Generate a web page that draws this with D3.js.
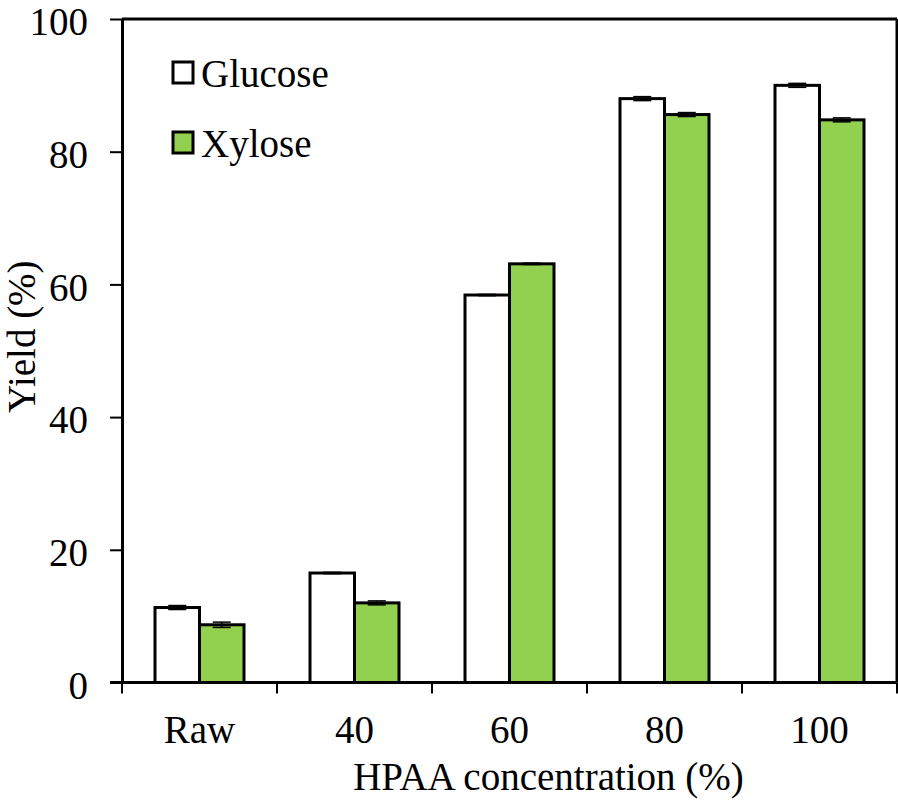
<!DOCTYPE html>
<html>
<head>
<meta charset="utf-8">
<script src="https://cdn.jsdelivr.net/npm/d3@7/dist/d3.min.js"></script>
<style>
  body { margin: 0; background: #fff; }
  svg { display: block; }
</style>
</head>
<body>
<svg id="chart" width="898" height="807"></svg>
<script>
const categories = ["Raw", "40", "60", "80", "100"];
const seriesNames = ["Glucose", "Xylose"];
const glucose = [11.3, 16.5, 58.4, 88.0, 90.0];
const xylose = [8.7, 12.0, 63.1, 85.6, 84.8];
const glucoseErr = [0.3, 0.1, 0.1, 0.3, 0.3];
const xyloseErr = [0.4, 0.3, 0.1, 0.3, 0.3];
const yTicks = [0, 20, 40, 60, 80, 100];
const colors = ["#ffffff", "#92d050"];

const FONT = "Liberation Serif, DejaVu Serif, Tinos, Times New Roman, serif";
const FS = 39;
const svg = d3.select("#chart").attr("font-family", FONT);
const m = { left: 122, right: 897, top: 19, bottom: 682.5 };

const x0 = d3.scaleBand().domain(categories).range([m.left, m.right]).padding(0);
const x1 = d3.scaleBand().domain(seriesNames).range([33, x0.bandwidth() - 33]).padding(0);
const y = d3.scaleLinear().domain([0, 100]).range([m.bottom, m.top]);

const data = categories.map((c, i) => ({
  cat: c,
  vals: [
    { s: "Glucose", v: glucose[i], e: glucoseErr[i], color: colors[0] },
    { s: "Xylose", v: xylose[i], e: xyloseErr[i], color: colors[1] }
  ]
}));

// bars
const groups = svg.append("g").selectAll("g").data(data).join("g")
  .attr("transform", d => `translate(${x0(d.cat)},0)`);

groups.selectAll("rect").data(d => d.vals).join("rect")
  .attr("x", d => x1(d.s))
  .attr("y", d => y(d.v))
  .attr("width", x1.bandwidth())
  .attr("height", d => y(0) - y(d.v))
  .attr("fill", d => d.color)
  .attr("stroke", "#000")
  .attr("stroke-width", 3);

// error bars
const eb = groups.selectAll("g.err").data(d => d.vals).join("g").attr("class", "err");
eb.append("line")
  .attr("x1", d => x1(d.s) + x1.bandwidth() / 2)
  .attr("x2", d => x1(d.s) + x1.bandwidth() / 2)
  .attr("y1", d => y(d.v + d.e))
  .attr("y2", d => y(d.v - d.e))
  .attr("stroke", "#000").attr("stroke-width", 1.5);
[1, -1].forEach(sgn => {
  eb.append("line")
    .attr("x1", d => x1(d.s) + x1.bandwidth() / 2 - 9)
    .attr("x2", d => x1(d.s) + x1.bandwidth() / 2 + 9)
    .attr("y1", d => y(d.v + sgn * d.e))
    .attr("y2", d => y(d.v + sgn * d.e))
    .attr("stroke", "#000").attr("stroke-width", 1.5);
});

// frame top and right
svg.append("line").attr("x1", m.left).attr("x2", m.right).attr("y1", m.top).attr("y2", m.top)
  .attr("stroke", "#000").attr("stroke-width", 3);
svg.append("line").attr("x1", m.right).attr("x2", m.right).attr("y1", m.top).attr("y2", m.bottom)
  .attr("stroke", "#000").attr("stroke-width", 3);

// y axis
const yAxis = svg.append("g").attr("transform", `translate(${m.left},0)`)
  .call(d3.axisLeft(y).tickValues(yTicks).tickSize(12).tickSizeOuter(0).tickPadding(22).tickFormat(d3.format("d")));
yAxis.attr("font-family", FONT).attr("font-size", FS);
yAxis.select(".domain").attr("stroke-width", 3);
yAxis.selectAll(".tick line").attr("stroke-width", 2);
yAxis.selectAll("text").attr("fill", "#000").attr("dy", "0.4em");

// x axis line
svg.append("line").attr("x1", m.left - 12).attr("x2", m.right).attr("y1", m.bottom).attr("y2", m.bottom)
  .attr("stroke", "#000").attr("stroke-width", 3);
// x boundary ticks
const bounds = categories.map(c => x0(c)).concat([x0(categories[categories.length - 1]) + x0.bandwidth()]);
svg.append("g").selectAll("line").data(bounds).join("line")
  .attr("x1", d => d).attr("x2", d => d)
  .attr("y1", m.bottom).attr("y2", m.bottom + 11)
  .attr("stroke", "#000").attr("stroke-width", 2);
// x labels
svg.append("g").attr("font-size", FS).selectAll("text").data(categories).join("text")
  .attr("x", d => x0(d) + x0.bandwidth() / 2)
  .attr("y", 743)
  .attr("text-anchor", "middle")
  .text(d => d);

// axis titles
svg.append("text").attr("x", (m.left + m.right) / 2 + 39).attr("y", 790)
  .attr("text-anchor", "middle").attr("font-size", FS)
  .text("HPAA concentration (%)");
svg.append("text").attr("transform", `translate(35, ${(m.top + m.bottom) / 2 - 14}) rotate(-90)`)
  .attr("text-anchor", "middle").attr("font-size", FS)
  .text("Yield (%)");

// legend
const legend = svg.append("g");
seriesNames.forEach((s, i) => {
  const ly = 62 + i * 70;
  legend.append("rect").attr("x", 173).attr("y", ly).attr("width", 20).attr("height", 21)
    .attr("fill", colors[i]).attr("stroke", "#000").attr("stroke-width", 3);
  legend.append("text").attr("x", 201).attr("y", ly + 25).attr("font-size", FS).text(s);
});
</script>
</body>
</html>
